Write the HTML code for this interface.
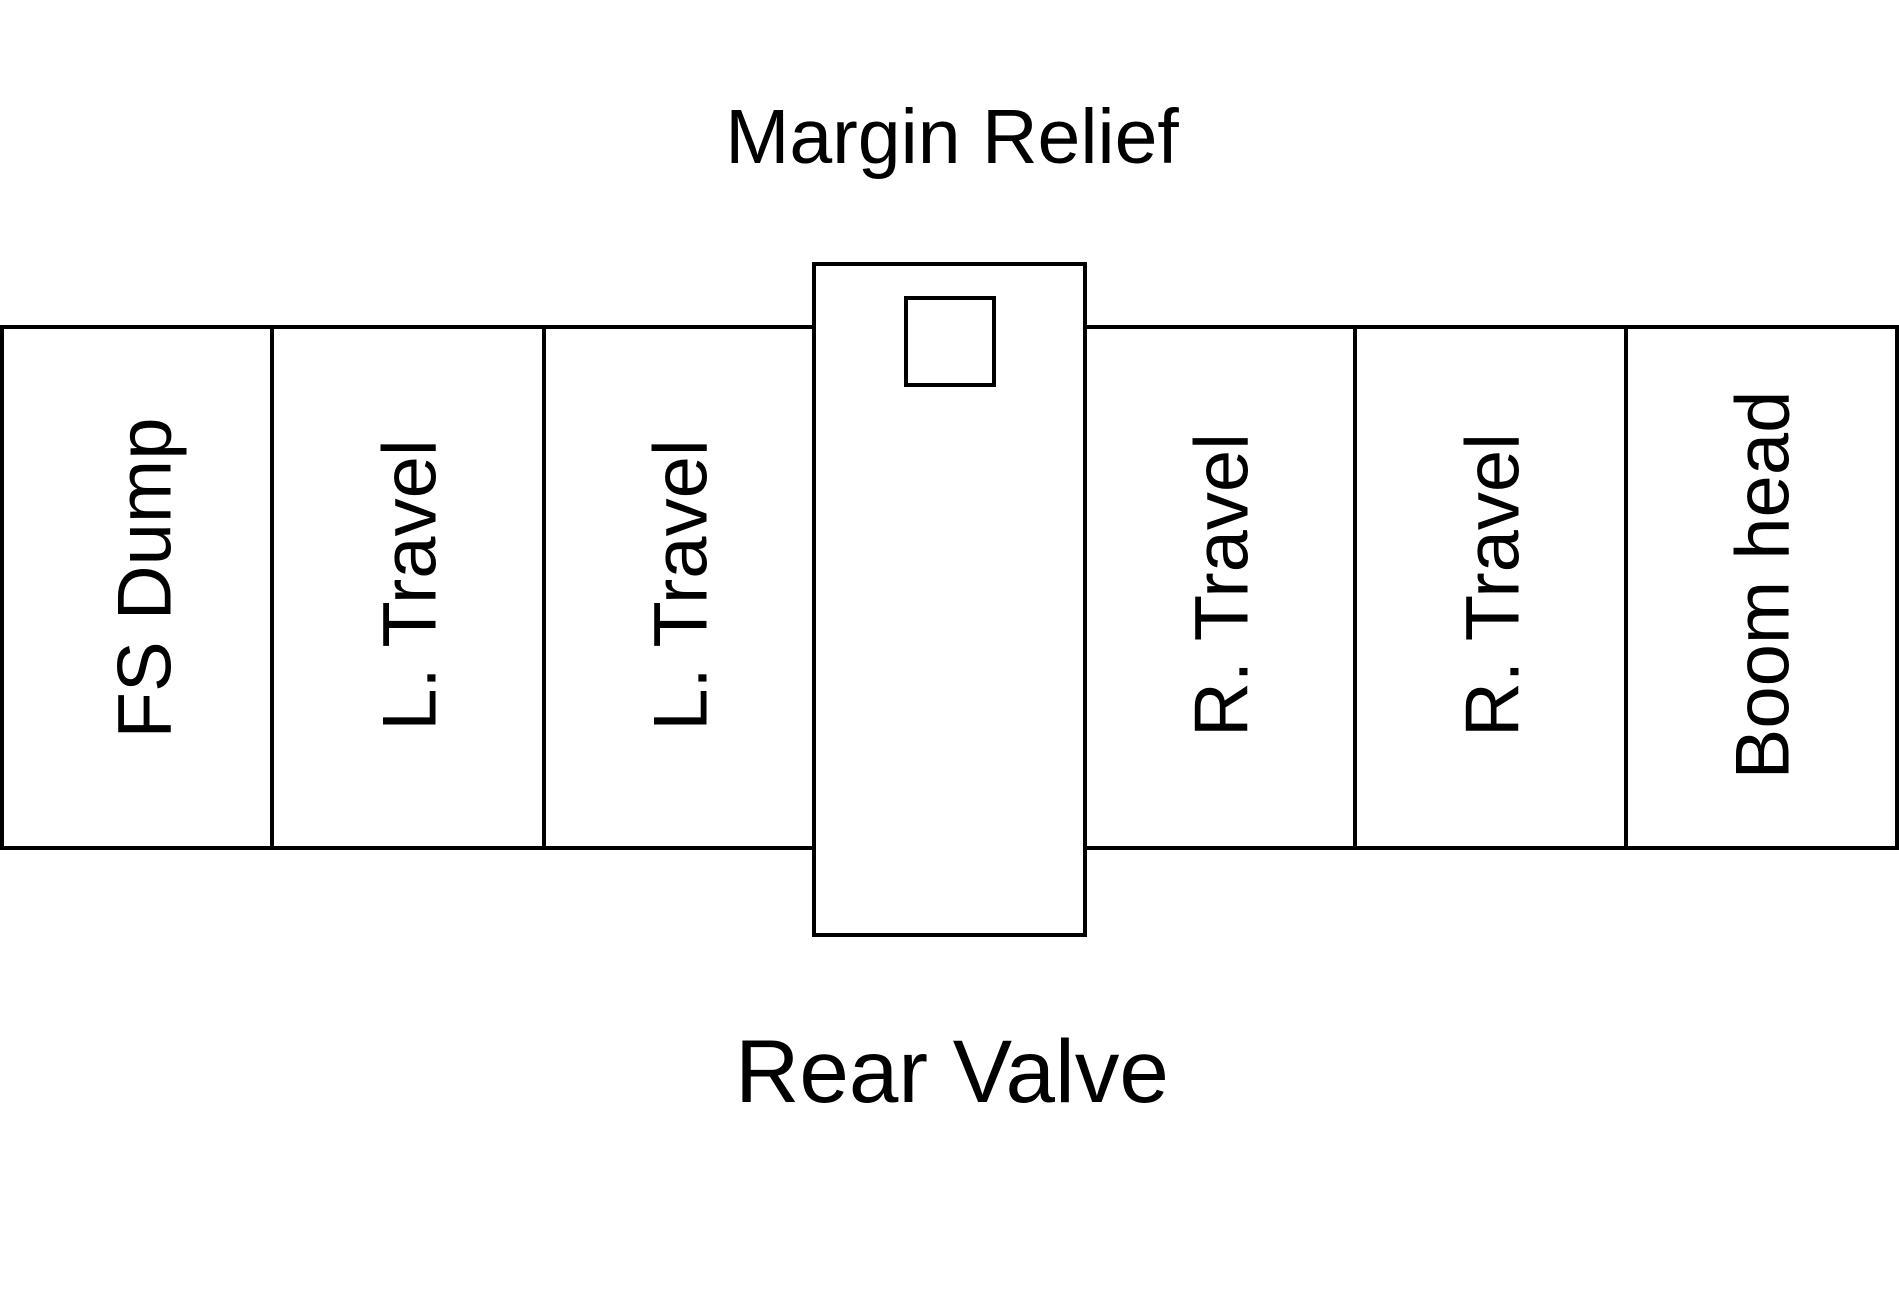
<!DOCTYPE html>
<html><head><style>html,body{margin:0;padding:0;background:#fff;}svg{display:block}</style></head>
<body>
<svg width="1899" height="1315" viewBox="0 0 1899 1315" xmlns="http://www.w3.org/2000/svg" font-family="Liberation Sans, sans-serif" fill="#000">
<rect x="0" y="0" width="1899" height="1315" fill="#fff"/>
<g stroke="#000" stroke-width="4" fill="none">
<rect x="2" y="327" width="1895" height="521"/>
<line x1="272" y1="327" x2="272" y2="848"/>
<line x1="544" y1="327" x2="544" y2="848"/>
<line x1="1355" y1="327" x2="1355" y2="848"/>
<line x1="1626" y1="327" x2="1626" y2="848"/>
<rect x="814" y="264" width="271" height="671" fill="#fff"/>
<rect x="906" y="298" width="88" height="87"/>
</g>
<text x="952" y="163" font-size="77" text-anchor="middle">Margin Relief</text>
<text x="952" y="1102" font-size="89" text-anchor="middle">Rear Valve</text>
<g font-size="76" text-anchor="middle" dominant-baseline="central">
<text transform="translate(145,578) rotate(-90)">FS Dump</text>
<text transform="translate(410,585) rotate(-90)">L. Travel</text>
<text transform="translate(681,585) rotate(-90)">L. Travel</text>
<text transform="translate(1222,585) rotate(-90)">R. Travel</text>
<text transform="translate(1493,585) rotate(-90)">R. Travel</text>
<text transform="translate(1763,585) rotate(-90)">Boom head</text>
</g>
</svg>
</body></html>
